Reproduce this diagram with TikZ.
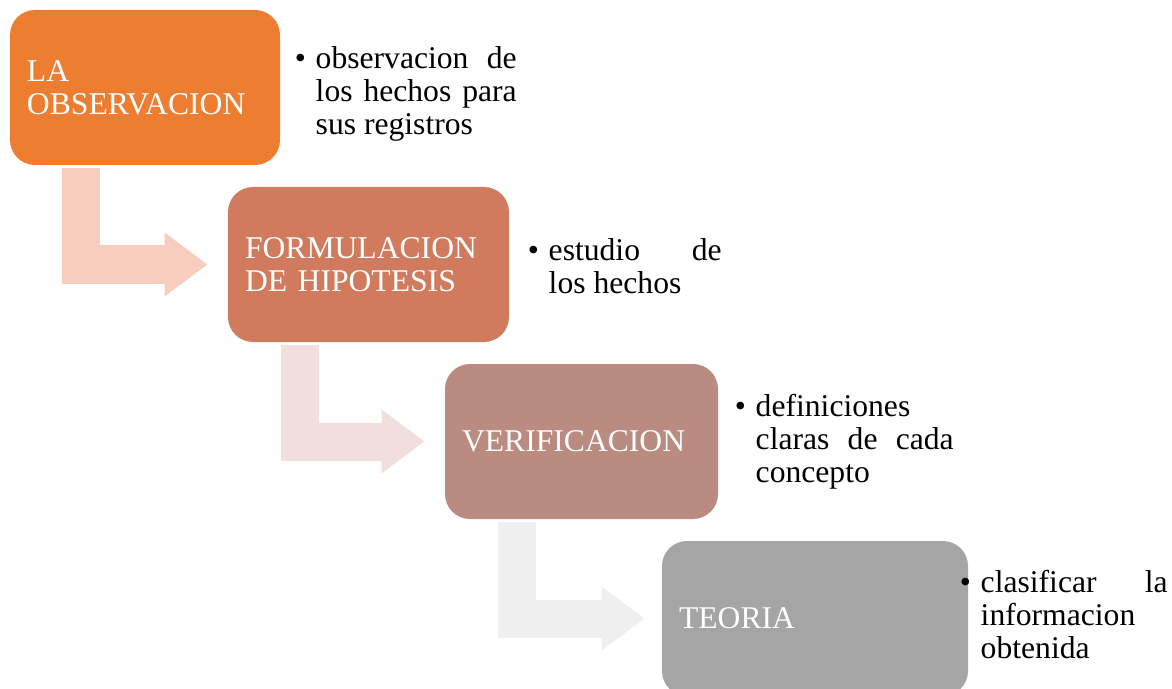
\documentclass[tikz,border=0pt]{standalone}
\usepackage{fontspec}
\setmainfont{Liberation Serif}
\newfontfamily\timesfont{Liberation Serif}
\usepackage{tikz}
\usetikzlibrary{arrows.meta,positioning}

\definecolor{obsorange}{RGB}{237,125,49}
\definecolor{hipbrown}{RGB}{209,123,94}
\definecolor{verrose}{RGB}{185,139,129}
\definecolor{teogray}{RGB}{165,165,165}
\definecolor{arrowA}{RGB}{246,205,191}
\definecolor{arrowB}{RGB}{240,223,221}
\definecolor{arrowC}{RGB}{239,239,239}

\tikzset{
	stagebox/.style={rounded corners=0.5cm, minimum height=3.1cm, inner sep=0.34cm,
		align=left, text=white, font=\timesfont\fontsize{18}{18.8}\selectfont},
	notetext/.style={inner sep=0pt, align=justify, text=black,
		font=\timesfont\fontsize{18}{18.8}\selectfont},
	notedot/.style={inner sep=0pt, anchor=north east, text=black,
		font=\timesfont\fontsize{18}{18.8}\selectfont},
	bentarrow/.style={line width=0.76cm, line join=miter,
		-{Triangle[length=0.86cm,width=1.22cm]}}
}

\begin{document}
\begin{tikzpicture}

	  \useasboundingbox (0,0) rectangle (23.44,13.76);

	  %----------------------------------------------------------------
	  \node [stagebox, fill=obsorange, minimum width=5.4cm, text width=4.72cm] (obs) at (2.9,12.01) {LA\\OBSERVACION};
	  \node [stagebox, fill=hipbrown, minimum width=5.62cm, text width=4.94cm] (hip) at (7.37,8.47) {FORMULACION\\DE HIPOTESIS};
	  \node [stagebox, fill=verrose, minimum width=5.46cm, text width=4.78cm] (ver) at (11.63,4.93) {VERIFICACION};
	  \node [stagebox, fill=teogray, minimum width=6.12cm, text width=5.44cm] (teo) at (16.3,1.39) {TEORIA};

	  %----------------------------------------------------------------
	  \node [notetext, text width=4.02cm, anchor=west] (obsnote) at ([xshift=0.7cm,yshift=-0.12cm]obs.east)
	  	{\strut observacion de\linebreak los hechos para\linebreak sus registros};
	  \node [notetext, text width=3.46cm, anchor=west] (hipnote) at ([xshift=0.78cm,yshift=-0.03cm]hip.east)
	  	{\strut estudio de\linebreak los hechos};
	  \node [notetext, text width=3.96cm, anchor=west] (vernote) at ([xshift=0.74cm]ver.east)
	  	{\strut definiciones\linebreak claras de cada\linebreak concepto};
	  \node [notetext, text width=3.74cm, anchor=west] (teonote) at ([xshift=0.24cm,yshift=0.08cm]teo.east)
	  	{\strut clasificar la\linebreak informacion\linebreak obtenida};

	  \node [notedot] (obsdot) at ([xshift=-0.18cm]obsnote.north west) {\strut\textbullet};
	  \node [notedot] (hipdot) at ([xshift=-0.18cm]hipnote.north west) {\strut\textbullet};
	  \node [notedot] (verdot) at ([xshift=-0.18cm]vernote.north west) {\strut\textbullet};
	  \node [notedot] (teodot) at ([xshift=-0.18cm]teonote.north west) {\strut\textbullet};

	  %----------------------------------------------------------------
	  \draw [bentarrow] [arrowA] ([xshift=1.42cm,yshift=-0.06cm]obs.south west) |- ([xshift=-0.4cm]hip.west);
	  \draw [bentarrow] [arrowB] ([xshift=1.44cm,yshift=-0.06cm]hip.south west) |- ([xshift=-0.4cm]ver.west);
	  \draw [bentarrow] [arrowC] ([xshift=1.44cm,yshift=-0.06cm]ver.south west) |- ([xshift=-0.34cm]teo.west);

\end{tikzpicture}
\end{document}
